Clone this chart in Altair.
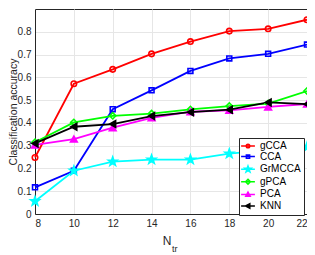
import altair as alt
import pandas as pd

ntr = [8, 10, 12, 14, 16, 18, 20, 22]
series_names = ["gCCA", "CCA", "GrMCCA", "gPCA", "PCA", "KNN"]
gCCA = [0.248, 0.572, 0.635, 0.703, 0.757, 0.803, 0.813, 0.853]
CCA = [0.117, 0.19, 0.46, 0.543, 0.628, 0.683, 0.703, 0.744]
GrMCCA = [0.056, 0.19, 0.23, 0.239, 0.239, 0.265, 0.28, 0.294]
gPCA = [0.315, 0.402, 0.431, 0.441, 0.459, 0.474, 0.485, 0.54]
PCA = [0.303, 0.329, 0.379, 0.422, 0.449, 0.455, 0.47, 0.483]
KNN = [0.31, 0.383, 0.395, 0.43, 0.447, 0.458, 0.49, 0.482]
values = [gCCA, CCA, GrMCCA, gPCA, PCA, KNN]
y_ticks = [0, 0.1, 0.2, 0.3, 0.4, 0.5, 0.6, 0.7, 0.8]

colors = ["#ff0000", "#0000ff", "#00ffff", "#00ff00", "#ff00ff", "#000000"]
fills = ["transparent", "transparent", "#00ffff", "transparent", "#ff00ff", "#000000"]
STAR = "M0,-1L0.235,-0.324L0.951,-0.309L0.38,0.124L0.588,0.809L0,0.4L-0.588,0.809L-0.38,0.124L-0.951,-0.309L-0.235,-0.324Z"
markers = ["circle", "square", STAR, "diamond", "triangle-up", "triangle-left"]
sizes = [30, 24, 85, 40, 45, 45]

L = "M-2.3,0H2.3"
legend_paths = [
    L + "M0.6,0A0.6,0.6,0,1,1,-0.6,0A0.6,0.6,0,1,1,0.6,0Z",
    L + "M-0.55,-0.55H0.55V0.55H-0.55Z",
    L + "M0,-1.1L0.26,-0.36L1.05,-0.34L0.42,0.14L0.65,0.89L0,0.44L-0.65,0.89L-0.42,0.14L-1.05,-0.34L-0.26,-0.36Z",
    L + "M0,-0.8L0.8,0L0,0.8L-0.8,0Z",
    L + "M0,-0.8L0.75,0.6L-0.75,0.6Z",
    L + "M-0.8,0L0.6,-0.75L0.6,0.75Z",
]

rows = []
for i, name in enumerate(series_names):
    for xv, yv in zip(ntr, values[i]):
        rows.append({"ntr": xv, "acc": yv, "series": name, "color": colors[i],
                     "fillc": fills[i], "marker": markers[i], "msize": sizes[i]})
df = pd.DataFrame(rows)
leg_df = pd.DataFrame({"series": series_names})

FONT = "Liberation Sans"
x_axis = alt.Axis(values=ntr, title=None, format="d", labelOverlap=False)
y_axis = alt.Axis(values=y_ticks,
                  labelExpr="datum.value == 0 ? '0' : format(datum.value, '.1f')",
                  labelOverlap=False,
                  title="Classification accuracy",
                  titleX=-26.5, titleY=102.5, titleBaseline="top", titleAlign="center",
                  titleAngle=270)
xenc = alt.X("ntr:Q", scale=alt.Scale(domain=[8, 22], nice=False, zero=False), axis=x_axis)
yenc = alt.Y("acc:Q", scale=alt.Scale(domain=[0, 0.9], nice=False), axis=y_axis)

lines = alt.Chart(df).mark_line(strokeWidth=1.8).encode(
    x=xenc, y=yenc,
    color=alt.Color("color:N", scale=None),
    detail="series:N",
    order="ntr:Q",
)
points = alt.Chart(df).mark_point(strokeWidth=1.6, opacity=1).encode(
    x=xenc, y=yenc,
    stroke=alt.Stroke("color:N", scale=None),
    fill=alt.Fill("fillc:N", scale=None),
    shape=alt.Shape("marker:N", scale=None),
    size=alt.Size("msize:Q", scale=None),
)
legend_layer = alt.Chart(leg_df).mark_point(opacity=0).encode(
    shape=alt.Shape("series:N", scale=alt.Scale(domain=series_names, range=legend_paths),
                    legend=alt.Legend(title=None, orient="none", legendX=204, legendY=129,
                                      symbolSize=36, symbolStrokeWidth=1.5,
                                      symbolOffset=1, labelOffset=7,
                                      labelFont=FONT, labelFontSize=10, labelColor="#000000",
                                      rowPadding=0.6, padding=3,
                                      strokeColor="#262626", fillColor="#ffffff",
                                      cornerRadius=0)),
    stroke=alt.Stroke("series:N", scale=alt.Scale(domain=series_names, range=colors)),
    fill=alt.Fill("series:N", scale=alt.Scale(domain=series_names, range=fills)),
)

xt = alt.Chart(pd.DataFrame({"t": ["N"]})).mark_text(
    font=FONT, fontSize=12, color="#262626", align="center", baseline="middle"
).encode(x=alt.value(132), y=alt.value(232), text="t:N")
xs = alt.Chart(pd.DataFrame({"t": ["tr"]})).mark_text(
    font=FONT, fontSize=9, color="#262626", align="left", baseline="middle"
).encode(x=alt.value(137), y=alt.value(240), text="t:N")

chart = alt.layer(lines, points, legend_layer, xt, xs).properties(
    width=272, height=205,
    autosize=alt.AutoSizeParams(type="none"),
    padding={"left": 27, "top": 1, "right": 0, "bottom": 41},
).configure_view(stroke="#262626", strokeWidth=1).configure_axis(
    labelFont=FONT, labelFontSize=10, labelColor="#262626",
    titleFont=FONT, titleFontSize=10.5, titleColor="#262626", titleFontWeight="normal",
    gridColor="#e6e6e6", gridOpacity=1, domainColor="#262626",
    ticks=False, labelPadding=4, labelOverlap=False,
)

chart.save("out.html", embed_options={"renderer": "svg", "actions": False})
